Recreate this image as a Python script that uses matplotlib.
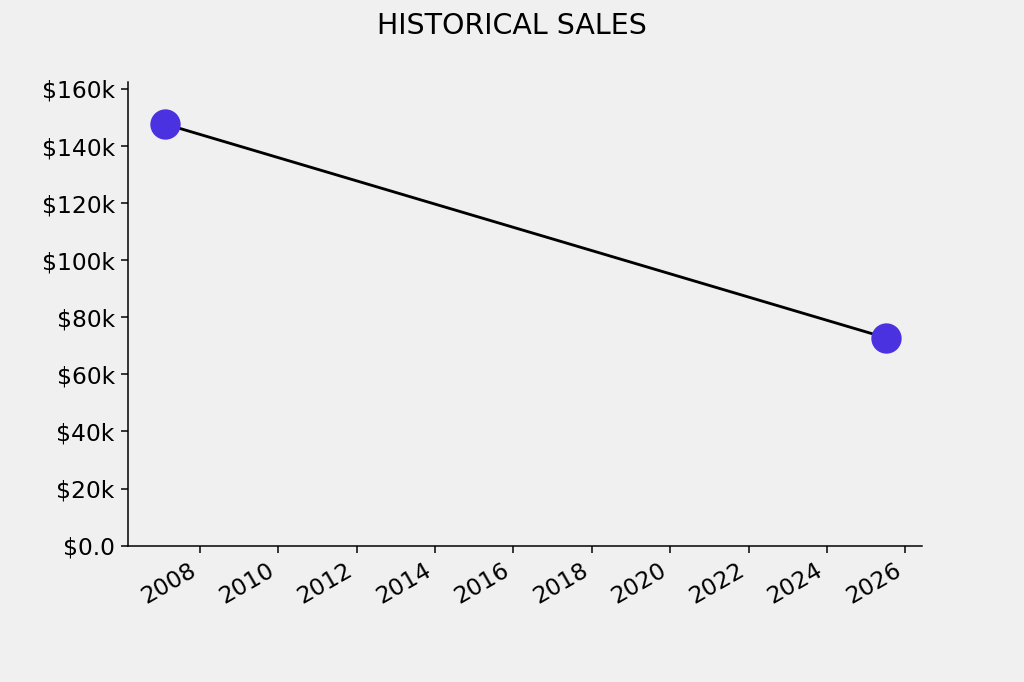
import matplotlib
matplotlib.use("Agg")
import matplotlib.pyplot as plt
import matplotlib.ticker as mticker
import matplotlib.dates as mdates
import pandas as pd

# data
dates = pd.to_datetime(["2007-02-10", "2025-07-05"])
sales = [147700, 72800]

bg = "#f0f0f0"
DPI = 136.5
fig = plt.figure(figsize=(1024 / DPI, 682 / DPI), dpi=DPI, facecolor=bg)
ax = fig.add_axes([0.125, 0.2, 0.775, 0.68], facecolor=bg)

ax.plot(dates, sales, color="black", lw=1.5, zorder=1)
ax.scatter(dates, sales, s=225, color="#4a32e0", zorder=2)

ax.set_ylim(0, 162500)
ax.set_yticks(range(0, 160001, 20000))


def money(v, pos):
    if v == 0:
        return "$0.0"
    return f"${v/1000:.0f}k"


ax.yaxis.set_major_formatter(mticker.FuncFormatter(money))
ax.xaxis.set_major_locator(mdates.YearLocator(2))
ax.xaxis.set_major_formatter(mdates.DateFormatter("%Y"))
ax.set_xlim(pd.Timestamp("2006-03-01"), pd.Timestamp("2026-06-01"))

for lbl in ax.get_xticklabels():
    lbl.set_rotation(30)
    lbl.set_ha("right")

ax.tick_params(labelsize=12.3)
ax.spines["top"].set_visible(False)
ax.spines["right"].set_visible(False)
fig.suptitle("HISTORICAL SALES", fontsize=15, y=0.982)

fig.savefig("out.png", dpi=DPI, facecolor=bg)
